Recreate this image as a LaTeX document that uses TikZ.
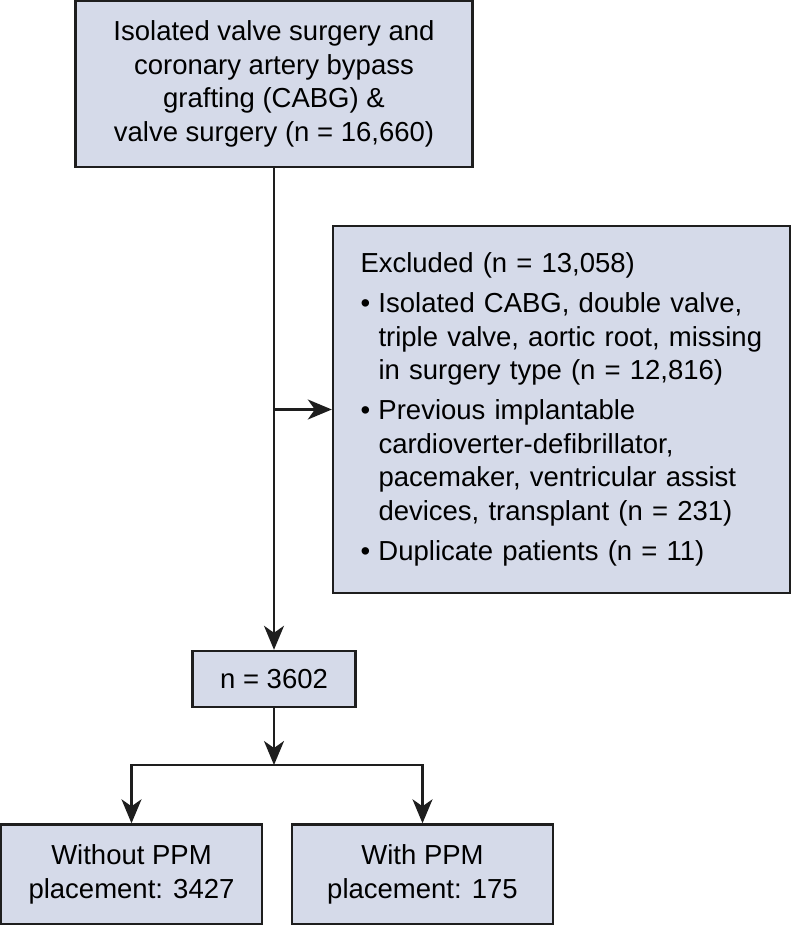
\documentclass[tikz,border=0pt]{standalone}
\usepackage{fontspec}
\setmainfont{Liberation Sans}
\usetikzlibrary{arrows.meta}
\definecolor{boxfill}{RGB}{213,218,233}
\definecolor{boxline}{RGB}{30,30,30}

\begin{document}
\begin{tikzpicture}[
  x = 1pt, y = -1pt,
  box/.style = {draw = boxline, fill = boxfill, line width = 2.4pt,
    inner sep = 0pt, align = center,
    font = \fontsize{27.5}{33.5}\selectfont},
  link/.style = {draw = boxline, line width = 2.2pt},
  arr/.style = {link, -{Stealth[length = 24pt, width = 20pt, inset = 7pt]}}
]
\useasboundingbox (0,0) rectangle (792,925);

% boxes
\node[box, minimum width = 397pt, minimum height = 166pt] (all) at (274,84)
  {Isolated valve surgery and\\ coronary artery bypass\\ grafting (CABG) \&\\
   valve surgery (n = 16,660)};
\node[box, minimum width = 457pt, minimum height = 367pt, text width = 402pt,
  inner xsep = 27.5pt, align = left] (excl) at (561.5,409.5)
  {Excluded (n = 13,058)\\[6.5pt]
   \makebox[18pt][l]{\textbullet}Isolated CABG, double valve,\\
   \hspace*{18pt}triple valve, aortic root, missing\\
   \hspace*{18pt}in surgery type (n = 12,816)\\[6.5pt]
   \makebox[18pt][l]{\textbullet}Previous implantable\\
   \hspace*{18pt}cardioverter-defibrillator,\\
   \hspace*{18pt}pacemaker, ventricular assist\\
   \hspace*{18pt}devices, transplant (n = 231)\\[6.5pt]
   \makebox[18pt][l]{\textbullet}Duplicate patients (n = 11)};
\node[box, minimum width = 163pt, minimum height = 56pt] (incl) at (274,679)
  {n = 3602};
\node[box, minimum width = 261pt, minimum height = 100pt] (noppm) at (131.5,874.5)
  {Without PPM\\ placement: 3427};
\node[box, minimum width = 261pt, minimum height = 100pt] (ppm) at (422.5,874.5)
  {With PPM\\ placement: 175};

% connectors
\coordinate (split) at (274,765);
\draw[arr] (all) -- (incl);
\draw[arr] (all |- excl) -- (excl.west);
\draw[arr] (incl) -- (split);
\draw[arr] (split) -| (noppm);
\draw[arr] (split) -| (ppm);

\end{tikzpicture}
\end{document}
